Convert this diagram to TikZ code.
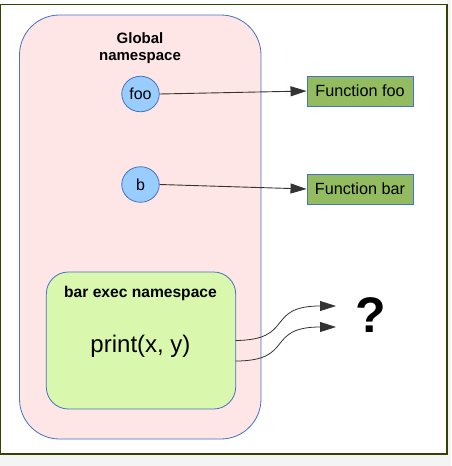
\documentclass[tikz,border=0pt]{standalone}
\usepackage{fontspec}
\setmainfont{Liberation Sans}
\usetikzlibrary{arrows.meta,shapes.geometric}
\definecolor{framecol}{RGB}{51,68,0}
\definecolor{bordblue}{RGB}{68,114,196}
\definecolor{globfill}{RGB}{255,230,230}
\definecolor{circfill}{RGB}{153,204,255}
\definecolor{funcfill}{RGB}{147,187,95}
\definecolor{innerfill}{RGB}{217,247,173}
\definecolor{outgray}{RGB}{244,244,244}
\tikzset{
  globbox/.style={draw=bordblue, fill=globfill, rounded corners=40pt, line width=0.8pt},
  innerbox/.style={draw=bordblue, fill=innerfill, rounded corners=22pt, line width=0.8pt},
  varnode/.style={ellipse, draw=bordblue, fill=circfill, minimum width=37.5pt, minimum height=35.5pt, inner sep=0pt, font=\fontsize{16}{18}\selectfont, line width=0.8pt},
  funcbox/.style={draw=bordblue, fill=funcfill, minimum width=106pt, minimum height=30pt, inner sep=0pt, font=\fontsize{16.2}{18}\selectfont, line width=0.9pt},
  conn/.style={draw=black!80, line width=0.9pt, -{Triangle[length=16pt,width=10pt]}},
  titletext/.style={font=\bfseries\fontsize{15}{17}\selectfont, align=center},
}
\begin{document}
\begin{tikzpicture}[x=1pt,y=-1pt]
\useasboundingbox (0,0) rectangle (451,466);
\fill[outgray] (0,0) rectangle (451,466);
\fill[white] (0,0) rectangle (447,454);
\draw[framecol, line width=1.3pt] (0.7,4.5) rectangle (447,454);
% global namespace
\path[globbox] (19.5,15) rectangle (261,439);
\node[titletext] (gtitle) at (140,48) {Global\\namespace};
\node[varnode] (foo) at (140.5,94) {foo};
\node[varnode] (b) at (140.5,184.5) {b};
\node[funcbox] (ffoo) at (360,91) {Function foo};
\node[funcbox] (fbar) at (360,189) {Function bar};
\draw[conn] (foo.east) -- (ffoo.west);
\draw[conn] (b.east) -- (fbar.west);
% inner box
\path[innerbox] (46.3,272) rectangle (235.7,409);
\node[font=\bfseries\fontsize{15.6}{17}\selectfont] (itext) at (140.5,293) {bar exec namespace};
\node[font=\fontsize{24}{26}\selectfont] (ptext) at (140.5,346) {print(x, y)};
\coordinate (s1) at (235.7,340.5);
\coordinate (s2) at (235.7,361);
\node[font=\bfseries\fontsize{50}{52}\selectfont] (q) at (371,315) {?};
\coordinate (e1) at (336,306);
\coordinate (e2) at (336,327);
\draw[conn, line width=0.8pt] (s1) .. controls (295,340) and (265,306) .. (e1);
\draw[conn, line width=0.8pt] (s2) .. controls (295,361) and (265,327) .. (e2);
\end{tikzpicture}
\end{document}
